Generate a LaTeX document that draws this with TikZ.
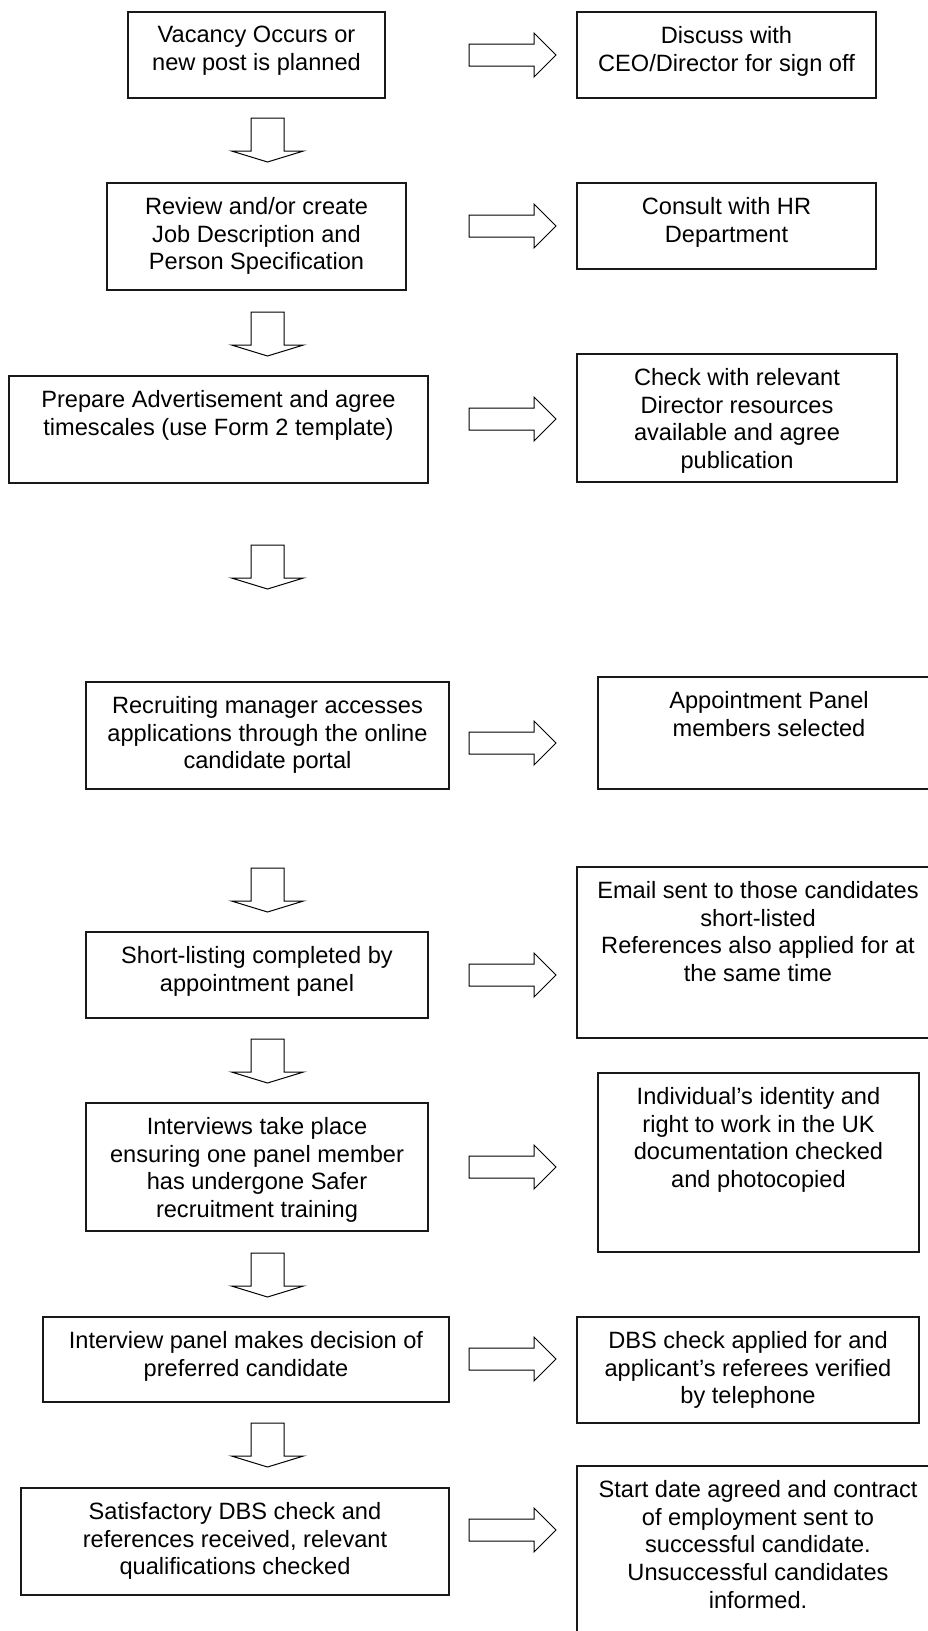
\documentclass[tikz,border=0pt]{standalone}
\usepackage{fontspec}
\setmainfont{Liberation Sans}
\usetikzlibrary{fit}
\tikzset{
  flowbox/.style={draw=black!90, line width=1.4pt, inner sep=0pt, rectangle},
  flowtxt/.style={anchor=north, inner sep=0pt, align=center, text=black,
    font=\fontsize{23.6pt}{27.6pt}\selectfont},
  blockarrow/.style={draw=black, line width=1pt, fill=white, line join=miter},
  pics/downarrow/.style={code={
    \draw[blockarrow] (-16.5,0) -- (16.5,0) -- (16.5,33) -- (36,33) -- (0,44)
      -- (-36,33) -- (-16.5,33) -- cycle;}},
  pics/rightarrow/.style={code={
    \draw[blockarrow] (0,-11) -- (65,-11) -- (65,-22) -- (87,0) -- (65,22)
      -- (65,11) -- (0,11) -- cycle;}}
}
\newcommand\flowitem[6]{%
  \node[flowbox, fit={(#2,#3) (#4,#5)}] (#1) {};
  \node[flowtxt] (#1t) at ([yshift=-15pt]#1.north) {#6};}
\begin{document}
\begin{tikzpicture}[x=1pt, y=-1pt]
\useasboundingbox (0,0) rectangle (928,1631);
\clip (0,0) rectangle (928,1631);
\fill[white] (0,0) rectangle (928,1631);
% left column
\flowitem{b1}{128}{12}{385}{98}{Vacancy Occurs or\\new post is planned}
\flowitem{b2}{107}{183}{406}{290}{Review and/or create\\Job Description and\\Person Specification}
\flowitem{b3}{9}{376}{428}{483}{Prepare Advertisement and agree\\timescales (use Form 2 template)}
\flowitem{b4}{86}{682}{449}{789}{Recruiting manager accesses\\applications through the online\\candidate portal}
\flowitem{b5}{86}{932}{428}{1018}{Short-listing completed by\\appointment panel}
\flowitem{b6}{86}{1103}{428}{1231}{Interviews take place\\ensuring one panel member\\has undergone Safer\\recruitment training}
\flowitem{b7}{43}{1317}{449}{1402}{Interview panel makes decision of\\preferred candidate}
\flowitem{b8}{21}{1488}{449}{1595}{Satisfactory DBS check and\\references received, relevant\\qualifications checked}
% right column
\flowitem{d1}{577}{12}{876}{98}{Discuss with\\CEO/Director for sign off}
\flowitem{d2}{577}{183}{876}{269}{Consult with HR\\Department}
\flowitem{d3}{577}{354}{897}{482}{Check with relevant\\Director resources\\available and agree\\publication}
\flowitem{d4}{598}{677}{940}{789}{Appointment Panel\\members selected}
\flowitem{d5}{577}{867}{939}{1038}{Email sent to those candidates\\short-listed\\References also applied for at\\the same time}
\flowitem{d6}{598}{1073}{919}{1252}{Individual’s identity and\\right to work in the UK\\documentation checked\\and photocopied}
\flowitem{d7}{577}{1317}{919}{1423}{DBS check applied for and\\applicant’s referees verified\\by telephone}
\flowitem{d8}{577}{1466}{939}{1650}{Start date agreed and contract\\of employment sent to\\successful candidate.\\Unsuccessful candidates\\informed.}
% down block arrows
\foreach \t in {118,312,545,868,1039,1253,1423}
  \pic at (267.5,\t) {downarrow};
% right block arrows
\foreach \c in {55,226,419,743,975,1167,1359,1530}
  \pic at (469,\c) {rightarrow};
\end{tikzpicture}
\end{document}
